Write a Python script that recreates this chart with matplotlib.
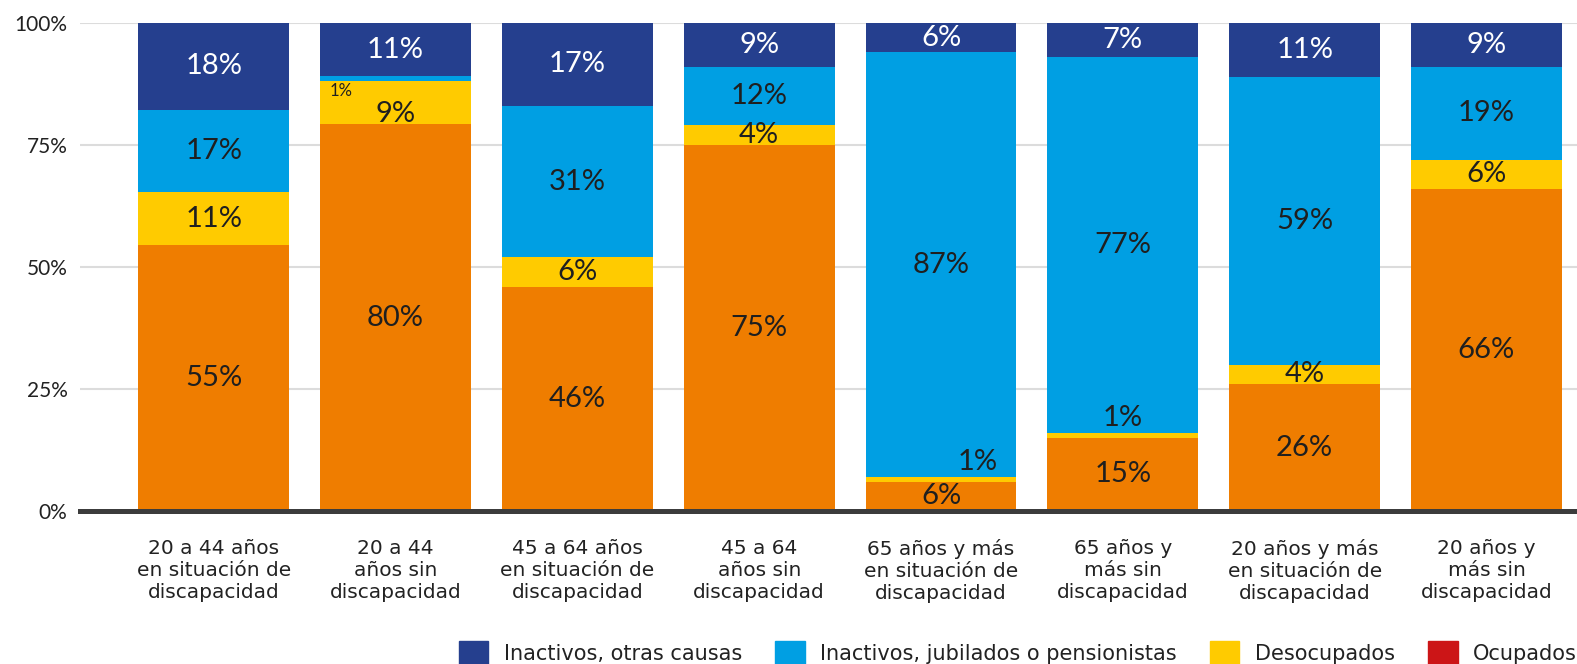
import matplotlib
matplotlib.use("Agg")
import matplotlib.pyplot as plt
import numpy as np
from matplotlib.patches import Patch

plt.rcParams['font.family'] = ['Lato', 'DejaVu Sans']

categories = ["20 a 44 años\nen situación de\ndiscapacidad",
              "20 a 44\naños sin\ndiscapacidad",
              "45 a 64 años\nen situación de\ndiscapacidad",
              "45 a 64\naños sin\ndiscapacidad",
              "65 años y más\nen situación de\ndiscapacidad",
              "65 años y\nmás sin\ndiscapacidad",
              "20 años y más\nen situación de\ndiscapacidad",
              "20 años y\nmás sin\ndiscapacidad"]

ocupados = [55, 80, 46, 75, 6, 15, 26, 66]
desocupados = [11, 9, 6, 4, 1, 1, 4, 6]
jubilados = [17, 1, 31, 12, 87, 77, 59, 19]
otras = [18, 11, 17, 9, 6, 7, 11, 9]

series_names = ["Ocupados", "Desocupados",
                "Inactivos, jubilados o pensionistas", "Inactivos, otras causas"]
bar_colors = ["#EF7D00", "#FFCB00", "#009FE3", "#253F8E"]
legend_colors = ["#CC1517", "#FFCB00", "#009FE3", "#253F8E"]
text_colors = ["#1f1f1f", "#1f1f1f", "#1f1f1f", "white"]

data = np.array([ocupados, desocupados, jubilados, otras], dtype=float)
shares = data / data.sum(axis=0) * 100

fig = plt.figure(figsize=(15.77, 6.64), dpi=100)
ax = fig.add_axes([80/1577, 1-511/664, 1-80/1577, 488/664])

x = np.arange(len(categories))
width = 0.83
bottom = np.zeros(len(categories))
for i in range(4):
    ax.bar(x, shares[i], width, bottom=bottom, color=bar_colors[i], zorder=2)
    for j in range(len(categories)):
        val = data[i, j]
        yc = bottom[j] + shares[i, j] / 2
        dx = 0
        size = 21
        if val <= 1:
            # tiny segments: label placed just above
            if j == 1:
                dx, yc, size = -0.3, bottom[j] + shares[i, j] / 2 - 2.5, 12
            elif j == 4:
                dx, yc = 0.2, yc + 3.5
            else:
                dx, yc = 0, yc + 3.5
        elif j == 1 and i == 1:
            yc -= 2.3
        ax.text(x[j] + dx, yc, f"{int(val)}%", ha="center", va="center",
                fontsize=size, color=text_colors[i], zorder=3)
    bottom += shares[i]

ax.set_ylim(0, 100)
ax.set_xlim(-0.736, 7.498)
ax.set_yticks([0, 25, 50, 75, 100])
ax.set_yticklabels(["0%", "25%", "50%", "75%", "100%"])
ax.yaxis.grid(True, color="#dcdcdc", linewidth=1.5, zorder=0)
ax.set_axisbelow(True)
ax.set_xticks(x)
ax.set_xticklabels(categories, fontsize=14.5, color="#222222", linespacing=1.22,
                   family="DejaVu Sans")
ax.tick_params(axis="x", length=0, pad=20)
ax.tick_params(axis="y", length=0, pad=9, labelsize=15, labelcolor="#222222")
for s in ["top", "right", "left"]:
    ax.spines[s].set_visible(False)
ax.spines["bottom"].set_color("#3c3c3c")
ax.spines["bottom"].set_linewidth(3.6)
ax.spines["bottom"].set_zorder(4)

handles = [Patch(color=legend_colors[i], label=series_names[i]) for i in [3, 2, 1, 0]]
fig.legend(handles=handles, ncol=4, loc="center right",
           bbox_to_anchor=(1.0, 1 - 653/664), frameon=False,
           prop={"family": "DejaVu Sans", "size": 15},
           handlelength=1.4, handleheight=1.4, handletextpad=0.75,
           columnspacing=1.6, borderpad=0, borderaxespad=0,
           labelcolor="#222222")

fig.savefig("out.png", dpi=100)
